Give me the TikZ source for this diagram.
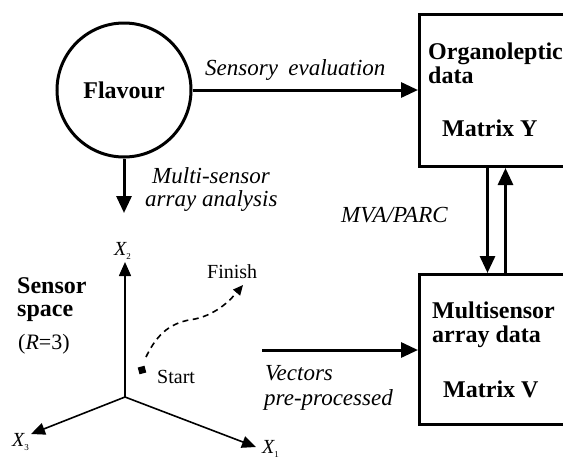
\documentclass[tikz,border=0pt]{standalone}
\usepackage{fontspec}
\setmainfont{Liberation Serif}
\usetikzlibrary{arrows.meta}
\begin{document}
\begin{tikzpicture}[x=1pt,y=-1pt,
  heavy/.style={line width=3pt},
  bigarrow/.style={line width=3pt,-{Triangle[length=17pt,width=15pt]}},
  axisarrow/.style={line width=1.6pt,-{Triangle[length=14pt,width=12pt]}},
  databox/.style={draw,line width=3pt,minimum width=172pt,minimum height=152pt,anchor=north west,inner sep=0},
  boldlbl/.style={font=\fontsize{24}{27}\selectfont\bfseries,anchor=base west,inner sep=0},
  itlbl/.style={font=\fontsize{23}{26}\selectfont\itshape,anchor=base west,inner sep=0},
  plainlbl/.style={font=\fontsize{20}{23}\selectfont,anchor=base west,inner sep=0},
  axislbl/.style={font=\fontsize{20}{23}\selectfont\itshape,anchor=base west,inner sep=0}
]
\useasboundingbox (0,0) rectangle (563,459);
\clip (0,0) rectangle (563,459);

% flavour circle
\node[circle,draw,heavy,minimum size=134pt,inner sep=0,
      font=\fontsize{24}{27}\selectfont\bfseries] (flavour) at (124,90) {Flavour};

% the two data matrices
\node[databox,minimum height=152pt] (boxY) at (418,13) {};
\node[databox,minimum height=150pt] (boxV) at (418,273) {};

\node[boldlbl] (orgA) at (428,59) {Organoleptic};
\node[boldlbl] (orgB) at (428,83) {data};
\node[boldlbl] (matY) at (442,136) {Matrix Y};

\node[boldlbl] (msA) at (432,318) {Multisensor};
\node[boldlbl] (msB) at (432,342) {array data};
\node[boldlbl] (matV) at (443,397) {Matrix V};

% flows
\draw[bigarrow] (flavour.east) -- (flavour.east -| boxY.west);
\node[itlbl] (sens) at (205,75) {Sensory\hspace{0.45em}evaluation};

\coordinate (msaEnd) at (124,213);
\draw[bigarrow] (flavour.south) -- (msaEnd);
\node[itlbl] (msaA) at (152,183) {Multi-sensor};
\node[itlbl] (msaB) at (145,206) {array analysis};

\draw[bigarrow] ([xshift=-18pt]boxY.south) -- ([xshift=-18pt]boxV.north);
\draw[bigarrow] (boxV.north) -- (boxY.south);
\node[itlbl] (mva) at (341,222) {MVA/PARC};

\coordinate (vecStart) at (262,350);
\draw[bigarrow] (vecStart) -- (vecStart -| boxV.west);
\node[itlbl] (vecA) at (265,380) {Vectors};
\node[itlbl] (vecB) at (264,405) {pre-processed};

% sensor space
\node[boldlbl] (ssA) at (17,293) {Sensor};
\node[boldlbl] (ssB) at (17,316) {space};
\node[font=\fontsize{22}{25}\selectfont,anchor=base west,inner sep=0] (rr) at (18,349) {(\textit{R}=3)};

\coordinate (origin) at (125,397);
\coordinate (axOne) at (256,447);
\coordinate (axTwo) at (125,262);
\coordinate (axThree) at (31,434);
\draw[axisarrow] (origin) -- (axOne);
\draw[axisarrow] (origin) -- (axTwo);
\draw[axisarrow] (origin) -- (axThree);

\node[axislbl] (lOne) at (262,453) {X\raisebox{-4pt}{\fontsize{9}{9}\selectfont\upshape 1}};
\node[axislbl] (lTwo) at (114,255) {X\raisebox{-4pt}{\fontsize{9}{9}\selectfont\upshape 2}};
\node[axislbl] (lThree) at (12,446) {X\raisebox{-4pt}{\fontsize{9}{9}\selectfont\upshape 3}};

% trajectory in sensor space
\node[fill,minimum size=7pt,inner sep=0,rotate=15] (start) at (142,370) {};
\coordinate (trajA) at (146,357);
\coordinate (finish) at (243,285);
\draw[line width=1.6pt,dash pattern=on 6pt off 4.5pt,-{Triangle[length=10pt,width=9pt]}]
  (trajA) .. controls (158,332) and (172,322) .. (195,319)
          .. controls (218,314) and (232,298) .. (finish);
\node[plainlbl] (startLbl) at (157,383) {Start};
\node[plainlbl] (finLbl) at (207,278) {Finish};
\end{tikzpicture}
\end{document}
